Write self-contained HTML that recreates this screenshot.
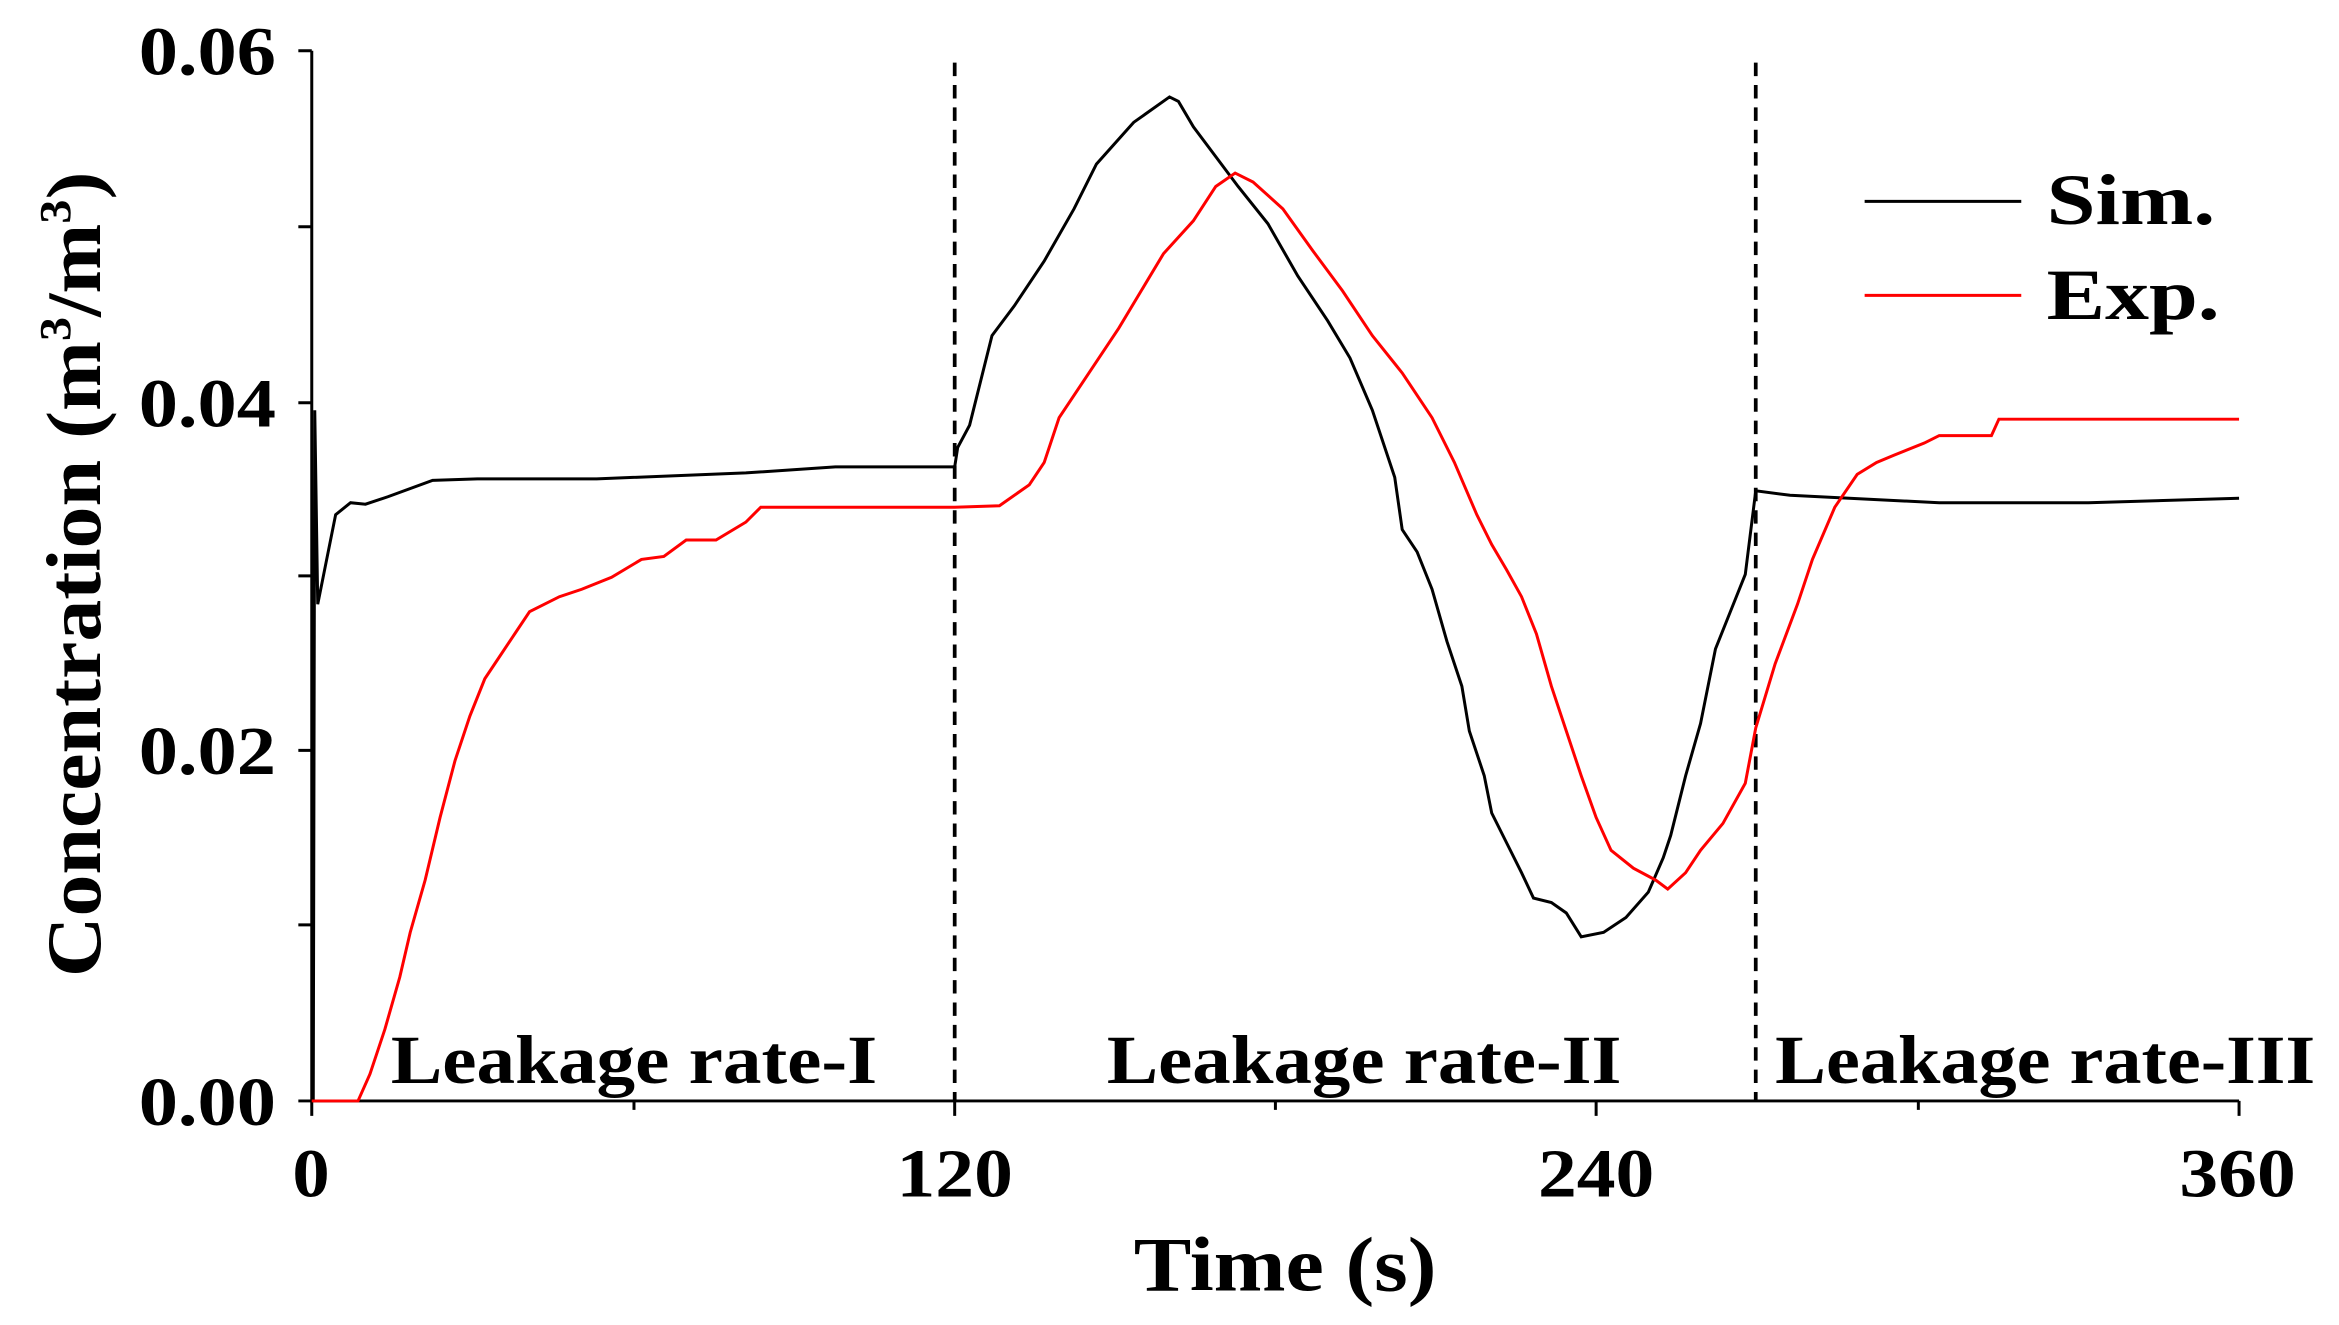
<!DOCTYPE html>
<html><head><style>html,body{margin:0;padding:0;background:#fff}svg{display:block}</style></head>
<body>
<svg width="2339" height="1325" viewBox="0 0 1568 888.2" preserveAspectRatio="none" xmlns="http://www.w3.org/2000/svg" font-family="'Liberation Serif',serif" font-weight="bold">
<g stroke="#000" stroke-width="2" fill="none">
<path d="M209,34V738H1501"/>
<path d="M200,34H209M200,152H209M200,270H209M200,386H209M200,503H209M200,620H209M200,738H209"/>
<path d="M209,738V748M640,738V748M1070,738V748M1501,738V748M425,738V744M855,738V744M1286,738V744"/>
</g>
<g stroke="#000" stroke-width="2.5" stroke-dasharray="9,6">
<path d="M640,42V738M1177,42V738"/>
</g>
<path fill="none" stroke="#000" stroke-width="2" d="M210,738L211,275L213,405L218,380L225,345L235,337L245,338L260,333L290,322L320,321L400,321L500,317L560,313L640,313L642,300L650,285L665,225L680,205L700,175L720,140L735,110L760,82L784,65L790,68L800,85L815,105L830,125L850,150L870,185L890,215L905,240L920,275L935,320L940,355L950,370L960,395L970,430L980,460L985,490L995,520L1000,545L1010,565L1020,585L1028,602L1040,605L1050,612L1060,628L1075,625L1090,615L1105,598L1115,575L1120,560L1130,520L1140,485L1150,435L1160,410L1170,385L1177,329L1200,332L1300,337L1400,337L1501,334"/>
<path fill="none" stroke="#f00" stroke-width="2" d="M209,738L240,738L248,720L258,690L268,655L275,625L285,590L295,548L305,510L315,480L325,455L335,440L345,425L355,410L365,405L375,400L390,395L410,387L430,375L445,373L460,362L480,362L500,350L510,340L560,340L640,340L670,339L690,325L700,310L710,280L730,250L750,220L765,195L780,170L800,148L815,125L828,116L840,122L860,140L880,168L900,195L920,225L940,250L960,280L975,310L990,345L1000,365L1010,382L1020,400L1030,425L1040,460L1050,490L1060,520L1070,548L1080,570L1095,582L1110,590L1118,596L1130,585L1140,570L1155,552L1170,525L1177,488L1190,445L1205,405L1215,375L1230,340L1245,318L1258,310L1270,305L1290,297L1300,292L1335,292L1340,281L1501,281"/>
<path stroke="#000" stroke-width="2" d="M1250,135H1355"/>
<path stroke="#f00" stroke-width="2" d="M1250,198H1355"/>
<g font-size="48" fill="#000" lengthAdjust="spacingAndGlyphs">
<text x="1372" y="150" textLength="113" lengthAdjust="spacingAndGlyphs">Sim.</text>
<text x="1372" y="214" textLength="116" lengthAdjust="spacingAndGlyphs">Exp.</text>
</g>
<g font-size="46" fill="#000">
<text x="93" y="50" textLength="92" lengthAdjust="spacingAndGlyphs">0.06</text>
<text x="93" y="286" textLength="92" lengthAdjust="spacingAndGlyphs">0.04</text>
<text x="93" y="519" textLength="92" lengthAdjust="spacingAndGlyphs">0.02</text>
<text x="93" y="754" textLength="92" lengthAdjust="spacingAndGlyphs">0.00</text>
<text x="196" y="802" textLength="25" lengthAdjust="spacingAndGlyphs">0</text>
<text x="601" y="802" textLength="78" lengthAdjust="spacingAndGlyphs">120</text>
<text x="1031" y="802" textLength="78" lengthAdjust="spacingAndGlyphs">240</text>
<text x="1461" y="802" textLength="78" lengthAdjust="spacingAndGlyphs">360</text>
<text x="760" y="865" font-size="52" textLength="203" lengthAdjust="spacingAndGlyphs">Time (s)</text>
<text x="262" y="726" textLength="326" lengthAdjust="spacingAndGlyphs">Leakage rate-I</text>
<text x="742" y="726" textLength="345" lengthAdjust="spacingAndGlyphs">Leakage rate-II</text>
<text x="1190" y="726" textLength="362" lengthAdjust="spacingAndGlyphs">Leakage rate-III</text>
</g>
<text transform="translate(67,655) rotate(-90)" font-size="52" fill="#000" textLength="540" lengthAdjust="spacingAndGlyphs">Concentration (m<tspan font-size="30" dy="-20">3</tspan><tspan dy="20">/m</tspan><tspan font-size="30" dy="-20">3</tspan><tspan dy="20">)</tspan></text>
</svg>
</body></html>
